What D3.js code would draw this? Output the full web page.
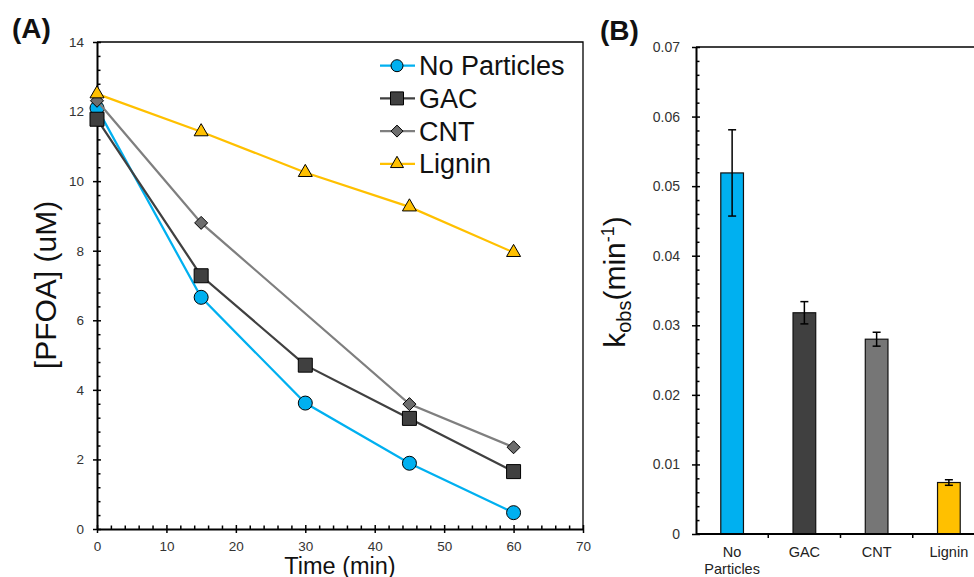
<!DOCTYPE html>
<html>
<head>
<meta charset="utf-8">
<script src="https://cdn.jsdelivr.net/npm/d3@7"></script>
<style>
  body { margin: 0; background: #fff; }
  svg { font-family: "Liberation Sans", Arial, sans-serif; display: block; }
</style>
</head>
<body>
<div id="chart"></div>
<script>
// panel A data: [PFOA] vs time
var timeMin = [0, 15, 30, 45, 60];
var noParticles = [12.1, 6.66, 3.62, 1.89, 0.47];
var gac = [11.78, 7.28, 4.71, 3.18, 1.65];
var cnt = [12.31, 8.8, null, 3.59, 2.35];   // no point at 30 min
var lignin = [12.51, 11.42, 10.25, 9.26, 7.95];
var seriesNames = ["No Particles", "GAC", "CNT", "Lignin"];
var xTicksA = [0, 10, 20, 30, 40, 50, 60, 70];
var yTicksA = [0, 2, 4, 6, 8, 10, 12, 14];

// panel B data: kobs
var categories = ["No Particles", "GAC", "CNT", "Lignin"];
var kobs = [0.0519, 0.0318, 0.0280, 0.0074];
var kobsErr = [0.0062, 0.0016, 0.0010, 0.0004];
var yTicksB = [0, 0.01, 0.02, 0.03, 0.04, 0.05, 0.06, 0.07];

var width = 974, height = 577;
var svg = d3.select("#chart").append("svg").attr("width", width).attr("height", height);

var lineColors = ["#00b0f0", "#404040", "#7f7f7f", "#ffc000"];
var fillColors = ["#00b0f0", "#404040", "#6d6d6d", "#ffc000"];
var barColors = ["#00b0f0", "#404040", "#767676", "#ffc000"];
var shapes = ["circle", "square", "diamond", "triangle"];

function marker(shape, s) {
    // s = nominal width in px
    if (shape == "circle") return d3.symbol(d3.symbolCircle, Math.PI * s * s / 4)();
    if (shape == "square") return d3.symbol(d3.symbolSquare, s * s)();
    if (shape == "diamond") { var h = s / 2; return `M0,${-h}L${h},0L0,${h}L${-h},0Z`; }
    return d3.symbol(d3.symbolTriangle, Math.sqrt(3) / 4 * s * s)();
}
var markerSize = [14, 14, 13, 14];
var legendMarkerSize = [12, 13, 12, 13];

// ---------- panel A ----------
var xA = d3.scaleLinear().domain([0, 70]).range([97, 583]);
var yA = d3.scaleLinear().domain([0, 14]).range([529, 42]);

// frame (top + right)
svg.append("path")
    .attr("d", `M${xA(0)},${yA(14)}H${xA(70)}V${yA(0)}`)
    .attr("fill", "none").attr("stroke", "#000").attr("stroke-width", 1.3);

var minorX = d3.range(0, 71, 2).filter(d => d % 10 != 0);
var minorY = d3.range(0, 14.01, 0.4).map(d => +d.toFixed(1)).filter(d => Math.abs(d / 2 - Math.round(d / 2)) > 0.01);

svg.append("g").attr("transform", `translate(0,${yA(0)})`)
    .call(d3.axisBottom(xA).tickValues(minorX).tickSize(-3.5).tickFormat(""))
    .call(g => g.select(".domain").remove())
    .call(g => g.selectAll(".tick line").attr("stroke-width", 1.5));
svg.append("g").attr("transform", `translate(${xA(0)},0)`)
    .call(d3.axisLeft(yA).tickValues(minorY).tickSize(-3.5).tickFormat(""))
    .call(g => g.select(".domain").remove())
    .call(g => g.selectAll(".tick line").attr("stroke-width", 1.5));

svg.append("g").attr("transform", `translate(0,${yA(0)})`)
    .call(d3.axisBottom(xA).tickValues(xTicksA).tickSize(4).tickSizeOuter(0).tickPadding(8))
    .call(g => g.select(".domain").attr("stroke-width", 2))
    .call(g => g.selectAll(".tick line").attr("y1", -4).attr("stroke-width", 1.5))
    .call(g => g.selectAll(".tick text").attr("font-size", 13.5).attr("fill", "#333"));
svg.append("g").attr("transform", `translate(${xA(0)},0)`)
    .call(d3.axisLeft(yA).tickValues(yTicksA).tickSize(4).tickSizeOuter(0).tickPadding(9))
    .call(g => g.select(".domain").attr("stroke-width", 2))
    .call(g => g.selectAll(".tick line").attr("x1", 4).attr("stroke-width", 1.5))
    .call(g => g.selectAll(".tick text").attr("font-size", 13.5).attr("fill", "#333"));

var allSeries = [noParticles, gac, cnt, lignin];
var line = d3.line().x(d => xA(d.t)).y(d => yA(d.v));

allSeries.forEach(function(vals, i) {
    var pts = timeMin.map((t, j) => ({ t: t, v: vals[j] })).filter(d => d.v != null);
    var g = svg.append("g");
    g.append("path").datum(pts).attr("d", line)
        .attr("fill", "none").attr("stroke", lineColors[i]).attr("stroke-width", 2.25);
    g.selectAll("path.m").data(pts).enter().append("path").attr("class", "m")
        .attr("d", marker(shapes[i], markerSize[i]))
        .attr("transform", d => `translate(${xA(d.t)},${yA(d.v)})`)
        .attr("fill", fillColors[i]).attr("stroke", "#000").attr("stroke-width", 1);
});

// legend
var legend = svg.append("g");
seriesNames.forEach(function(name, i) {
    var y = 65.7 + i * 32.7;
    legend.append("line").attr("x1", 380).attr("x2", 415).attr("y1", y).attr("y2", y)
        .attr("stroke", lineColors[i]).attr("stroke-width", 2.25);
    legend.append("path").attr("d", marker(shapes[i], legendMarkerSize[i]))
        .attr("transform", `translate(397,${y})`)
        .attr("fill", fillColors[i]).attr("stroke", "#000").attr("stroke-width", 1);
    legend.append("text").attr("x", 419).attr("y", y + 9.5)
        .attr("font-size", 27).attr("fill", "#111").text(name);
});

svg.append("text").attr("x", 340).attr("y", 574).attr("text-anchor", "middle")
    .attr("font-size", 23.5).attr("fill", "#111").text("Time (min)");
svg.append("text").attr("transform", "translate(56,285) rotate(-90)").attr("text-anchor", "middle")
    .attr("font-size", 30).attr("fill", "#111").text("[PFOA] (uM)");
svg.append("text").attr("x", 12).attr("y", 38).attr("font-size", 28).attr("font-weight", "bold")
    .attr("fill", "#111").text("(A)");

// ---------- panel B ----------
var xB = d3.scaleBand().domain(categories).range([696, 985]).paddingInner(0.686).paddingOuter(0.343);
var yB = d3.scaleLinear().domain([0, 0.07]).range([534, 47]);

svg.append("line").attr("x1", 696).attr("x2", 985).attr("y1", yB(0.07)).attr("y2", yB(0.07))
    .attr("stroke", "#000").attr("stroke-width", 1.3);

var minorB = d3.range(0, 35).map(d => +(d * 0.002).toFixed(3)).filter((d, i) => i % 5 != 0);
svg.append("g").attr("transform", `translate(696,0)`)
    .call(d3.axisLeft(yB).tickValues(minorB).tickSize(-3.5).tickFormat(""))
    .call(g => g.select(".domain").remove())
    .call(g => g.selectAll(".tick line").attr("stroke-width", 1.5));

svg.append("g")
    .selectAll("rect").data(categories).enter().append("rect")
    .attr("x", d => xB(d))
    .attr("y", (d, i) => yB(kobs[i]))
    .attr("width", xB.bandwidth())
    .attr("height", (d, i) => yB(0) - yB(kobs[i]))
    .attr("fill", (d, i) => barColors[i])
    .attr("stroke", "#111").attr("stroke-width", 1.2);

var eb = svg.append("g").attr("stroke", "#000").attr("stroke-width", 1.5);
categories.forEach(function(c, i) {
    var cx = xB(c) + xB.bandwidth() / 2;
    var hi = yB(kobs[i] + kobsErr[i]), lo = yB(kobs[i] - kobsErr[i]);
    eb.append("line").attr("x1", cx).attr("x2", cx).attr("y1", hi).attr("y2", lo);
    eb.append("line").attr("x1", cx - 4).attr("x2", cx + 4).attr("y1", hi).attr("y2", hi);
    eb.append("line").attr("x1", cx - 4).attr("x2", cx + 4).attr("y1", lo).attr("y2", lo);
});

svg.append("g").attr("transform", `translate(696,0)`)
    .call(d3.axisLeft(yB).tickValues(yTicksB).tickSize(4).tickSizeOuter(0).tickPadding(12)
        .tickFormat(d => d == 0 ? "0" : d3.format(".2f")(d)))
    .call(g => g.select(".domain").attr("stroke-width", 2))
    .call(g => g.selectAll(".tick line").attr("x1", 4).attr("stroke-width", 1.5))
    .call(g => g.selectAll(".tick text").attr("font-size", 14).attr("fill", "#333"));

var xAxisB = svg.append("g").attr("transform", `translate(0,${yB(0)})`);
xAxisB.append("line").attr("x1", 696).attr("x2", 985).attr("stroke", "#000").attr("stroke-width", 2);
d3.range(1, 4).forEach(function(i) {
    var x = xB.range()[0] + i * xB.step();
    xAxisB.append("line").attr("x1", x).attr("x2", x).attr("y1", 0).attr("y2", 4)
        .attr("stroke", "#000").attr("stroke-width", 1.5);
});
categories.forEach(function(c) {
    var t = xAxisB.append("text").attr("text-anchor", "middle").attr("font-size", 14.5).attr("fill", "#222");
    var words = c == "No Particles" ? ["No", "Particles"] : [c];
    words.forEach(function(w, j) {
        t.append("tspan").attr("x", xB(c) + xB.bandwidth() / 2).attr("y", 23 + j * 17).text(w);
    });
});

var kl = svg.append("text").attr("transform", "translate(625,282) rotate(-90)")
    .attr("text-anchor", "middle").attr("font-size", 30).attr("fill", "#111");
kl.append("tspan").text("k");
kl.append("tspan").attr("font-size", 20).attr("dy", 6).text("obs");
kl.append("tspan").attr("dy", -6).text("(min");
kl.append("tspan").attr("font-size", 18).attr("dy", -11).text("-1");
kl.append("tspan").attr("dy", 11).text(")");

svg.append("text").attr("x", 600).attr("y", 40).attr("font-size", 28).attr("font-weight", "bold")
    .attr("fill", "#111").text("(B)");
</script>
</body>
</html>
